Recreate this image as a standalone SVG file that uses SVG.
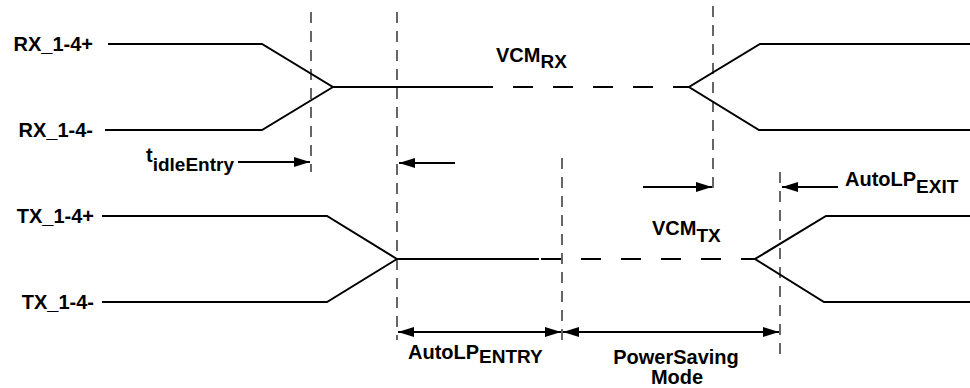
<svg xmlns="http://www.w3.org/2000/svg" width="970" height="388" viewBox="0 0 970 388">
<defs>
<style>
.sig{fill:none;stroke:#000;stroke-width:2;stroke-linejoin:miter}
.sigd{fill:none;stroke:#000;stroke-width:2;stroke-dasharray:20 20}
.vd{fill:none;stroke:#000;stroke-width:1.2;stroke-dasharray:11 8}
.arr{fill:none;stroke:#000;stroke-width:2}
.t{font-family:"Liberation Sans",Arial,sans-serif;font-weight:bold;font-size:20px;fill:#000}
.s{font-size:19px}
</style>
<marker id="ah" viewBox="0 0 16 10" refX="16" refY="5" markerWidth="16" markerHeight="10" markerUnits="userSpaceOnUse" orient="auto-start-reverse">
<path d="M0,0 L16,5 L0,10 Z" fill="#000"/>
</marker>
</defs>

<g id="guides">
<line class="vd" x1="311" y1="12" x2="311" y2="172"/>
<line class="vd" x1="397" y1="12" x2="397" y2="340"/>
<line class="vd" x1="713" y1="6" x2="713" y2="190"/>
<line class="vd" x1="562" y1="158" x2="562" y2="340"/>
<line class="vd" x1="780" y1="172" x2="780" y2="356"/>
</g>

<g id="rx-signal">
<polyline class="sig" points="108,44 262,44 333,87 493,87"/>
<polyline class="sig" points="105,130 262,130 333,87"/>
<line class="sigd" x1="513" y1="87" x2="689" y2="87"/>
<polyline class="sig" points="970,44 760,44 689,87 759,130 970,130"/>
</g>

<g id="tx-signal">
<polyline class="sig" points="102,216 327,216 397,259 539,259"/>
<polyline class="sig" points="102,302 327,302 397,259"/>
<line class="sigd" x1="541" y1="259" x2="755" y2="259"/>
<polyline class="sig" points="970,216 826,216 755,259 824,302 970,302"/>
</g>

<g id="connectors">
<line class="arr" x1="238" y1="162" x2="310" y2="162" marker-end="url(#ah)"/>
<line class="arr" x1="455" y1="163" x2="399" y2="163" marker-end="url(#ah)"/>
<line class="arr" x1="643" y1="187" x2="712" y2="187" marker-end="url(#ah)"/>
<line class="arr" x1="838" y1="187" x2="782" y2="187" marker-end="url(#ah)"/>
<line class="arr" x1="398" y1="332" x2="561" y2="332" marker-start="url(#ah)" marker-end="url(#ah)"/>
<line class="arr" x1="563" y1="332" x2="779" y2="332" marker-start="url(#ah)" marker-end="url(#ah)"/>
</g>

<g id="labels">
<text class="t" x="93" y="51" text-anchor="end">RX_1-4+</text>
<text class="t" x="93" y="137" text-anchor="end">RX_1-4-</text>
<text class="t" x="94" y="223" text-anchor="end">TX_1-4+</text>
<text class="t" x="94" y="309" text-anchor="end">TX_1-4-</text>
<text class="t" x="146" y="162">t<tspan class="s" dy="9">idleEntry</tspan></text>
<text class="t" x="496" y="62">VCM<tspan class="s" dy="6">RX</tspan></text>
<text class="t" x="652" y="235">VCM<tspan class="s" dy="7">TX</tspan></text>
<text class="t" x="845" y="186">AutoLP<tspan class="s" dy="7">EXIT</tspan></text>
<text class="t" x="408" y="359">AutoLP<tspan class="s" dy="4">ENTRY</tspan></text>
<text class="t" x="676" y="364" text-anchor="middle">PowerSaving</text>
<text class="t" x="677" y="384" text-anchor="middle">Mode</text>
</g>
</svg>
